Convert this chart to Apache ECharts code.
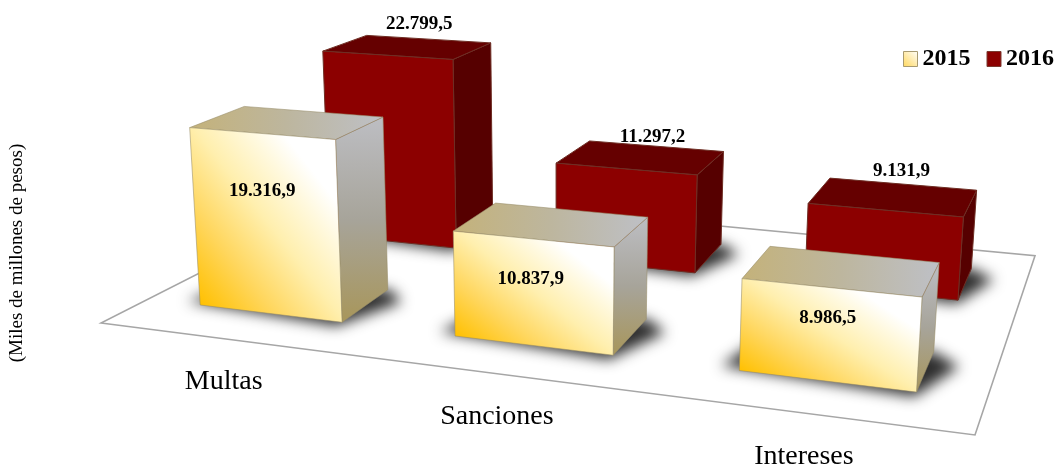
<!DOCTYPE html>
<html>
<head>
<meta charset="utf-8">
<style>html,body{margin:0;padding:0;background:#fff}#c{width:1055px;height:464px}</style>
<script src="https://cdn.jsdelivr.net/npm/echarts@6/dist/echarts.min.js"></script>
</head>
<body>
<div id="c"></div>
<script>
var categories = ['Multas', 'Sanciones', 'Intereses'];
var seriesNames = ['2015', '2016'];
var values2015 = [19316.9, 10837.9, 8986.5];
var values2016 = [22799.5, 11297.2, 9131.9];
var FONT = '"Liberation Serif","Times New Roman",serif';

// Perspective floor: unit square (u along categories, v along series depth) to the page
var Q = {a:717.74,b:368.26,c:101,d:42.28,e:-72.03,f:323,g:-0.16027,h:0.30712};
function H(u, v) {
  var w = Q.g*u + Q.h*v + 1;
  return [(Q.a*u + Q.b*v + Q.c)/w, (Q.d*u + Q.e*v + Q.f)/w];
}
// Raise a floor point by a pixel height from the value axis, with depth foreshortening
function raise(p, px) {
  var k = (0.0092 + 1.6e-5*(p[1]-306)) / 0.01;
  var hh = px*k;
  return [p[0] + (p[0]-560)/6100*hh, p[1]-hh];
}
function fmt(v) {
  var s = v.toFixed(1).split('.');
  return s[0].replace(/\B(?=(\d{3})+$)/g, '.') + ',' + s[1];
}
function grad(x, y, x2, y2, stops, global) {
  return {type:'linear', x:x, y:y, x2:x2, y2:y2, global:!!global,
    colorStops:stops.map(function(s){return {offset:s[0], color:s[1]};})};
}
var FRONT_STOPS = [[0,'#FFC000'],[0.25,'#FFD65C'],[0.5,'#FFEFAE'],[0.7,'#FFF9DF'],[0.82,'#FFFFFF'],[1,'#FFFFFF']];
// Diagonal gradient whose mid line runs through the face's top-left and bottom-right corners
function frontGradient(FL, FR, tFR, tFL) {
  var ex = FR[0]-tFL[0], ey = FR[1]-tFL[1], len = Math.sqrt(ex*ex+ey*ey);
  var nx = -ey/len, ny = ex/len;
  var dx = tFR[0]-FL[0], dy = tFR[1]-FL[1];
  var t = dx*nx + dy*ny;
  return grad(FL[0], FL[1], FL[0]+nx*t, FL[1]+ny*t, FRONT_STOPS, true);
}
var STYLE = {
  '2015': {
    right: grad(0,0,0,1,[[0,'#BDBEC3'],[0.5,'#A7A49A'],[1,'#A8965A']]),
    top: grad(0,0.5,1,0.5,[[0,'#C4B27A'],[0.5,'#BDB69E'],[1,'#BEC0C6']]),
    stroke: 'rgba(150,140,105,0.7)', sw: 0.8,
    vRange: [0.148, 0.348],
    labelFrac: [0.32, 0.38, 0.32]
  },
  '2016': {
    front: '#8C0000', right: '#560000', top: '#650000',
    stroke: '#6E2E24', sw: 1,
    vRange: [0.65, 0.863],
    labelDx: [11, 11, 7], labelDy: [-23, -21, -26]
  }
};
function poly(pts, fill, st) {
  return {type:'polygon', shape:{points:pts}, style:{fill:fill, stroke:st.stroke, lineWidth:st.sw}};
}
var OFF = 3000; // shape drawn off-page; only its soft shadow lands on the floor
function barRenderer(name) {
  var st = STYLE[name];
  return function (params, api) {
    var idx = api.value(0), val = api.value(1);
    var cs = params.coordSys;
    var uc = (api.coord([idx, 0])[0] - cs.x) / cs.width;
    var halfU = api.size([1, 0])[0] / cs.width * 0.285;
    var px = api.size([0, val])[1];
    var u0 = uc-halfU, u1 = uc+halfU, v0 = st.vRange[0], v1 = st.vRange[1];
    var skew = (1-uc)*0.006;
    var FL = H(u0,v0), FR = H(u1,v0), BR = H(u1-skew,v1), BL = H(u0-skew,v1);
    var tFL = raise(FL,px), tFR = raise(FR,px), tBR = raise(BR,px), tBL = raise(BL,px);
    var shadow = [H(u0-0.022,v0+0.012), H(u1,v0-0.022), H(u1+0.032,v1-0.06), H(u1,v1), H(u0,v1)]
      .map(function(p){return [p[0]-OFF,p[1]];});
    var lx, ly, frontFill = st.front;
    if (name === '2015') {
      var fr = st.labelFrac[idx];
      lx = (tFL[0]+tFR[0])/2 + (FL[0]+FR[0]-tFL[0]-tFR[0])/2*fr - 3;
      ly = (tFL[1]+tFR[1])/2 + (FL[1]+FR[1]-tFL[1]-tFR[1])/2*fr;
      frontFill = frontGradient(FL, FR, tFR, tFL);
    } else {
      lx = (tFL[0]+tFR[0]+tBR[0]+tBL[0])/4 + st.labelDx[idx];
      ly = (tFL[1]+tFR[1]+tBR[1]+tBL[1])/4 + st.labelDy[idx];
    }
    return {type:'group', children:[
      {type:'polygon', shape:{points:shadow}, style:{fill:'#333', shadowBlur:14, shadowColor:'#2e2e2e', shadowOffsetX:OFF, shadowOffsetY:0}},
      poly([FR,BR,tBR,tFR], st.right, st),
      poly([tFL,tFR,tBR,tBL], st.top, st),
      poly([FL,FR,tFR,tFL], frontFill, st),
      {type:'text', z2:10, style:{text:fmt(val), x:lx, y:ly, textAlign:'center', textVerticalAlign:'middle',
        font:'bold 19px '+FONT, fill:'#000'}}
    ]};
  };
}
function rows(arr){ return arr.map(function(v,i){return [i,v];}); }

var chart = echarts.init(document.getElementById('c'), null, {renderer:'canvas'});
chart.setOption({
  animation:false,
  backgroundColor:'#fff',
  grid:{left:40, width:1000, top:128, height:250},
  xAxis:{type:'category', data:categories, show:false},
  yAxis:{type:'value', min:0, max:25000, interval:5000,
    name:'(Miles de millones de pesos)', nameLocation:'middle', nameRotate:90, nameGap:18,
    nameTextStyle:{fontFamily:FONT, fontSize:19, color:'#000'},
    axisLine:{show:false}, axisTick:{show:false}, axisLabel:{show:false}, splitLine:{show:false}},
  legend:{left:903, top:47, itemWidth:14, itemHeight:15, itemGap:16, padding:0, icon:'rect',
    data:[{name:'2015', itemStyle:{borderColor:'#A89A70', borderWidth:1}},{name:'2016', itemStyle:{borderColor:'#7A3A30', borderWidth:1}}],
    textStyle:{fontFamily:FONT, fontSize:24, fontWeight:'bold', color:'#000', padding:0}},
  series:[
    {type:'custom', name:'floor', silent:true, z:1, coordinateSystem:'cartesian2d', data:[[0,0]], encode:{x:0,y:1},
      renderItem:function(){
        return {type:'polygon', shape:{points:[H(0,0),H(1,0),H(1,1),H(0,1)]}, style:{fill:'#fff', stroke:'#A6A6A6', lineWidth:1.6}};
      }},
    {type:'custom', name:'floorLabels', silent:true, z:2, coordinateSystem:'cartesian2d', data:rows(categories.map(function(){return 0;})), encode:{x:0,y:1},
      renderItem:function(params, api){
        var i = api.value(0), cs = params.coordSys;
        var uc = (api.coord([i,0])[0]-cs.x)/cs.width;
        var p = H(uc,0);
        return {type:'text', style:{text:categories[i], x:p[0]-3, y:p[1]+43, textAlign:'center', textVerticalAlign:'middle', font:'28px '+FONT, fill:'#000'}};
      }},
    {type:'custom', name:'2016', silent:true, z:3, coordinateSystem:'cartesian2d', data:rows(values2016), encode:{x:0,y:1},
      itemStyle:{color:'#8C0000'}, renderItem:barRenderer('2016')},
    {type:'custom', name:'2015', silent:true, z:4, coordinateSystem:'cartesian2d', data:rows(values2015), encode:{x:0,y:1},
      itemStyle:{color:grad(0,1,1,0,[[0,'#FFD75A'],[1,'#FFFFFF']])}, renderItem:barRenderer('2015')}
  ]
});
</script>
</body>
</html>
